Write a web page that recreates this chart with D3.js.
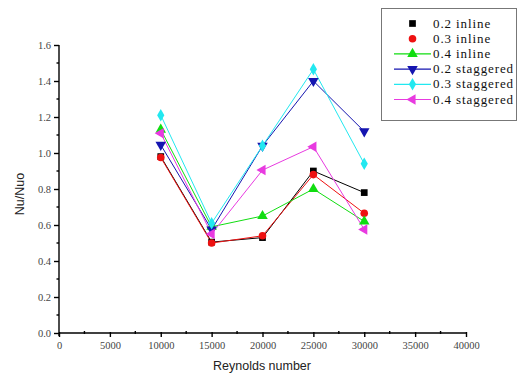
<!DOCTYPE html>
<html>
<head>
<meta charset="utf-8">
<script src="https://cdn.jsdelivr.net/npm/d3@7"></script>
<style>
  body { margin: 0; background: #fff; }
  svg { display: block; }
</style>
</head>
<body>
<div id="chart"></div>
<script>
const reynolds = [10000, 15000, 20000, 25000, 30000];
const inline02 = [0.98, 0.505, 0.53, 0.90, 0.78];
const inline03 = [0.975, 0.50, 0.54, 0.88, 0.665];
const inline04 = [1.13, 0.59, 0.65, 0.80, 0.62];
const staggered02 = [1.045, 0.575, 1.04, 1.40, 1.12];
const staggered03 = [1.21, 0.61, 1.04, 1.465, 0.94];
const staggered04 = [1.11, 0.55, 0.905, 1.035, 0.575];
const xTicks = [0, 5000, 10000, 15000, 20000, 25000, 30000, 35000, 40000];
const yTicks = [0.0, 0.2, 0.4, 0.6, 0.8, 1.0, 1.2, 1.4, 1.6];

const series = [
  { name: "0.2 inline", values: inline02, color: "#000000", symbol: "square", legendLine: false },
  { name: "0.3 inline", values: inline03, color: "#ee1111", symbol: "circle", legendLine: false },
  { name: "0.4 inline", values: inline04, color: "#11dd11", symbol: "triangleUp", legendLine: true },
  { name: "0.2 staggered", values: staggered02, color: "#1515b0", symbol: "triangleDown", legendLine: true },
  { name: "0.3 staggered", values: staggered03, color: "#22e8f0", symbol: "diamond", legendLine: true },
  { name: "0.4 staggered", values: staggered04, color: "#e83ae0", symbol: "triangleLeft", legendLine: true }
];

const width = 518, height = 374;

const svg = d3
  .select("#chart")
  .append("svg")
  .attr("width", width)
  .attr("height", height);

const x = d3.scaleLinear().domain([0, 40000]).range([59, 466]);
const y = d3.scaleLinear().domain([0, 1.6]).range([333, 45]);

// axes
const xAxis = svg
  .append("g")
  .attr("transform", `translate(0, ${y(0)})`)
  .call(d3.axisBottom(x).tickValues(xTicks).tickSize(4).tickPadding(5).tickFormat(d3.format("d")));
xAxis.select(".domain").attr("stroke-width", 1.4).attr("d", `M${x(0)},0H${x(40000)}`);
xAxis.selectAll(".tick line").attr("stroke-width", 1.4).attr("y1", -1);
xAxis
  .selectAll(".tick text")
  .attr("font-family", "Liberation Serif, serif")
  .attr("font-size", 10.5)
  .attr("fill", "#444");

// x minor ticks
svg
  .selectAll("xminor")
  .data(d3.range(2500, 40000, 5000))
  .enter()
  .append("line")
  .attr("x1", (d) => x(d))
  .attr("x2", (d) => x(d))
  .attr("y1", y(0) - 2)
  .attr("y2", y(0) + 1)
  .attr("stroke", "#000")
  .attr("stroke-width", 1.4);

const yAxis = svg
  .append("g")
  .attr("transform", `translate(${x(0)}, 0)`)
  .call(d3.axisLeft(y).tickValues(yTicks).tickSize(5).tickPadding(3).tickFormat(d3.format(".1f")));
yAxis.select(".domain").attr("stroke-width", 1.4).attr("d", `M0,${y(1.6)}V${y(0) + 3}`);
yAxis.selectAll(".tick line").attr("stroke-width", 1.4);
yAxis
  .selectAll(".tick text")
  .attr("font-family", "Liberation Serif, serif")
  .attr("font-size", 10.5)
  .attr("fill", "#444");

// y minor ticks
svg
  .selectAll("yminor")
  .data(d3.range(0.1, 1.6, 0.2))
  .enter()
  .append("line")
  .attr("x1", x(0) - 2.5)
  .attr("x2", x(0))
  .attr("y1", (d) => y(d))
  .attr("y2", (d) => y(d))
  .attr("stroke", "#000")
  .attr("stroke-width", 1.4);

// axis titles
svg
  .append("text")
  .attr("text-anchor", "middle")
  .attr("x", 262)
  .attr("y", 370)
  .attr("font-family", "Liberation Sans, Arial, sans-serif")
  .attr("font-size", 12.5)
  .attr("fill", "#222")
  .text("Reynolds number");

svg
  .append("text")
  .attr("text-anchor", "middle")
  .attr("transform", "translate(24, 194) rotate(-90)")
  .attr("font-family", "Liberation Sans, Arial, sans-serif")
  .attr("font-size", 12.5)
  .attr("fill", "#222")
  .text("Nu/Nuo");

// symbols
const symbolTypes = {
  square: d3.symbolSquare,
  circle: d3.symbolCircle,
  triangleUp: d3.symbolTriangle,
  triangleDown: d3.symbolTriangle,
  diamond: d3.symbolDiamond,
  triangleLeft: d3.symbolTriangle
};
const symbolSizes = { square: 45, circle: 45, triangleUp: 48, triangleDown: 48, diamond: 45, triangleLeft: 48 };
const symbolRotate = { triangleDown: 180, triangleLeft: -90 };

function drawSymbol(g, s, cx, cy) {
  g.append("path")
    .attr("d", d3.symbol().type(symbolTypes[s.symbol]).size(symbolSizes[s.symbol])())
    .attr("transform", `translate(${cx},${cy}) rotate(${symbolRotate[s.symbol] || 0})`)
    .attr("fill", s.color)
    .attr("stroke", "none");
}

const line = d3
  .line()
  .x((d, i) => x(reynolds[i]))
  .y((d) => y(d));

const plot = svg.append("g");
for (const s of series) {
  plot
    .append("path")
    .datum(s.values)
    .attr("fill", "none")
    .attr("stroke", s.color)
    .attr("stroke-width", 1)
    .attr("d", line);
}
for (const s of series) {
  const g = plot.append("g");
  s.values.forEach((v, i) => drawSymbol(g, s, x(reynolds[i]), y(v)));
}

// legend
const legend = svg.append("g");
legend
  .append("rect")
  .attr("x", 381.5)
  .attr("y", 8.5)
  .attr("width", 135)
  .attr("height", 112)
  .attr("fill", "#fff")
  .attr("stroke", "#777")
  .attr("stroke-width", 1);

series.forEach((s, i) => {
  const ly = 23.5 + i * 15.2;
  const g = legend.append("g");
  if (s.legendLine) {
    g.append("line")
      .attr("x1", 394)
      .attr("x2", 431)
      .attr("y1", ly)
      .attr("y2", ly)
      .attr("stroke", s.color)
      .attr("stroke-width", 1.2);
  }
  drawSymbol(g, s, 412.5, ly);
  g.append("text")
    .attr("x", 433)
    .attr("y", ly + 4)
    .attr("font-family", "Liberation Serif, serif")
    .attr("font-size", 13)
    .attr("letter-spacing", 0.9)
    .attr("fill", "#111")
    .text(s.name);
});
</script>
</body>
</html>
